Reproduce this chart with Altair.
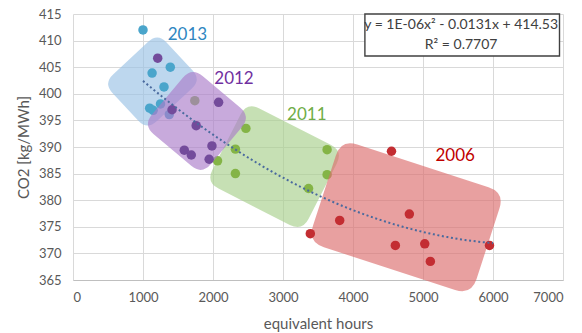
import altair as alt
import pandas as pd

# --- measured points: equivalent hours vs CO2 intensity, one series per year ---
hours_2013 = [1000, 1130, 1390, 1300, 1250, 1095, 1145, 1375]
co2_2013 = [412.0, 403.9, 405.0, 401.3, 398.1, 397.3, 396.9, 396.1]

hours_2012 = [1210, 1415, 2080, 1760, 1985, 1590, 1690, 1945]
co2_2012 = [406.7, 397.0, 398.4, 394.0, 390.2, 389.4, 388.5, 387.7]

hours_2011 = [1740, 2470, 2320, 2065, 2320, 3630, 3630, 3365]
co2_2011 = [398.7, 393.5, 389.6, 387.4, 385.0, 389.5, 384.8, 382.2]

hours_2006 = [4550, 4805, 3810, 3390, 4605, 5025, 5105, 5950]
co2_2006 = [389.2, 377.4, 376.2, 373.7, 371.5, 371.8, 368.5, 371.5]

# quadratic trend y = a*x^2 + b*x + c, as printed in the equation box
trend_a, trend_b, trend_c = 1e-06, -0.0131, 414.53
trend_r2 = 0.7707
trend_from, trend_to = 1000, 6000

x_ticks = [0, 1000, 2000, 3000, 4000, 5000, 6000, 7000]
y_ticks = [365, 370, 375, 380, 385, 390, 395, 400, 405, 410, 415]

FONT = "Lato"

X = alt.X(
    "hours:Q",
    scale=alt.Scale(domain=[0, 7000], nice=False, zero=False),
    axis=alt.Axis(
        values=x_ticks, format="d", title="equivalent hours", grid=True, ticks=False,
        labelPadding=11, domain=True, domainColor="#bfbfbf", domainWidth=1,
        titleY=43, titleX=245, titleBaseline="middle", titleAlign="center",
    ),
)
Y = alt.Y(
    "co2:Q",
    scale=alt.Scale(domain=[365, 415], nice=False, zero=False),
    axis=alt.Axis(
        values=y_ticks, format="d", title="CO2 [kg/MWh]", grid=True, ticks=False,
        labelPadding=12, domain=False,
        titleX=-50, titleY=133, titleAngle=270, titleBaseline="middle",
        titleAlign="center",
    ),
)


def rounded_rect_path(w, h, r):
    """Unit-width rounded rectangle path for a custom point symbol."""
    a = h / w
    p = 2 * r / w
    f = lambda v: f"{v:.4f}"
    return (
        f"M{f(-1 + p)},{f(-a)} L{f(1 - p)},{f(-a)} Q1,{f(-a)} 1,{f(-a + p)} "
        f"L1,{f(a - p)} Q1,{f(a)} {f(1 - p)},{f(a)} "
        f"L{f(-1 + p)},{f(a)} Q-1,{f(a)} -1,{f(a - p)} "
        f"L-1,{f(-a + p)} Q-1,{f(-a)} {f(-1 + p)},{f(-a)} Z"
    )


# highlight regions around each year's cluster: centre (data units), then shape style
regions = {
    "2013": dict(hours=1135, co2=402.3, w=64, h=74, r=13, angle=47, fill="#99c1e5"),
    "2012": dict(hours=1770, co2=394.9, w=77, h=76, r=14, angle=40, fill="#aa7cc9"),
    "2011": dict(hours=2880, co2=386.3, w=108, h=90, r=14, angle=27, fill="#a7cf8c"),
    "2006": dict(hours=4760, co2=376.8, w=172, h=108, r=17, angle=18, fill="#dc6d6d"),
}

dot_colors = {"2013": "#4aa5cb", "2012": "#734b9b", "2011": "#84b446", "2006": "#c32d32"}
label_colors = {"2013": "#2e86c1", "2012": "#7030a0", "2011": "#70ad47", "2006": "#c00000"}
label_pos = {
    "2013": (1635, 411.1),
    "2012": (2300, 402.8),
    "2011": (3340, 396.1),
    "2006": (5460, 388.3),
}
series = {
    "2013": (hours_2013, co2_2013),
    "2012": (hours_2012, co2_2012),
    "2011": (hours_2011, co2_2011),
    "2006": (hours_2006, co2_2006),
}


def region_layer(year):
    g = regions[year]
    df = pd.DataFrame({"hours": [g["hours"]], "co2": [g["co2"]]})
    return alt.Chart(df).mark_point(
        shape=rounded_rect_path(g["w"], g["h"], g["r"]),
        size=g["w"] ** 2,
        angle=g["angle"],
        filled=True,
        color=g["fill"],
        opacity=0.65,
        strokeWidth=0,
    ).encode(x=X, y=Y)


def dots_layer(year):
    hrs, co2 = series[year]
    df = pd.DataFrame({"hours": hrs, "co2": co2})
    return alt.Chart(df).mark_circle(size=90, opacity=1, color=dot_colors[year]).encode(x=X, y=Y)


def label_layer(year):
    hx, cy = label_pos[year]
    df = pd.DataFrame({"hours": [hx], "co2": [cy], "t": [year]})
    return alt.Chart(df).mark_text(
        font=FONT, fontSize=17, color=label_colors[year], align="center", baseline="middle"
    ).encode(x=X, y=Y, text="t:N")


# dotted quadratic trend line
trend = (
    alt.Chart(alt.sequence(trend_from, trend_to + 1, 50, as_="hours"))
    .transform_calculate(co2=f"{trend_a}*datum.hours*datum.hours + ({trend_b})*datum.hours + {trend_c}")
    .mark_line(color="#4a6a9e", strokeWidth=2, strokeDash=[2, 2.6], strokeCap="butt")
    .encode(x=X, y=Y)
)

# equation box in the upper right corner
eq_box = alt.Chart(pd.DataFrame({"hours": [4170], "hours2": [6950], "co2": [415.0], "co22": [407.1]})).mark_rect(
    fill="white", stroke="#404040", strokeWidth=1.4
).encode(x=X, x2="hours2:Q", y=Y, y2="co22:Q")

eq_lines = [
    f"y = 1E-06x² - {abs(trend_b)}x + {trend_c}",
    f"R² = {trend_r2}",
]
eq_text = alt.Chart(pd.DataFrame({"hours": [5545, 5545], "co2": [412.9, 409.2], "t": eq_lines})).mark_text(
    font=FONT, fontSize=14, color="#404040", align="center", baseline="middle"
).encode(x=X, y=Y, text="t:N")

layers = [
    region_layer("2013"), dots_layer("2013"),
    region_layer("2011"), dots_layer("2011"),
    region_layer("2012"), dots_layer("2012"),
    region_layer("2006"), dots_layer("2006"),
    trend,
    label_layer("2013"), label_layer("2012"), label_layer("2011"), label_layer("2006"),
    eq_box, eq_text,
]

chart = (
    alt.layer(*layers)
    .properties(
        width=490, height=266,
        autosize=alt.AutoSizeParams(type="none"),
        padding={"left": 73, "top": 14, "right": 19, "bottom": 53},
        background="white",
    )
    .configure_view(stroke=None)
    .configure_axis(
        labelFont=FONT, labelFontSize=13, labelColor="#595959",
        titleFont=FONT, titleFontSize=15, titleColor="#595959", titleFontWeight="normal",
        gridColor="#d9d9d9", gridWidth=1,
    )
)

chart.save("out.html", embed_options={"renderer": "svg", "actions": False})
